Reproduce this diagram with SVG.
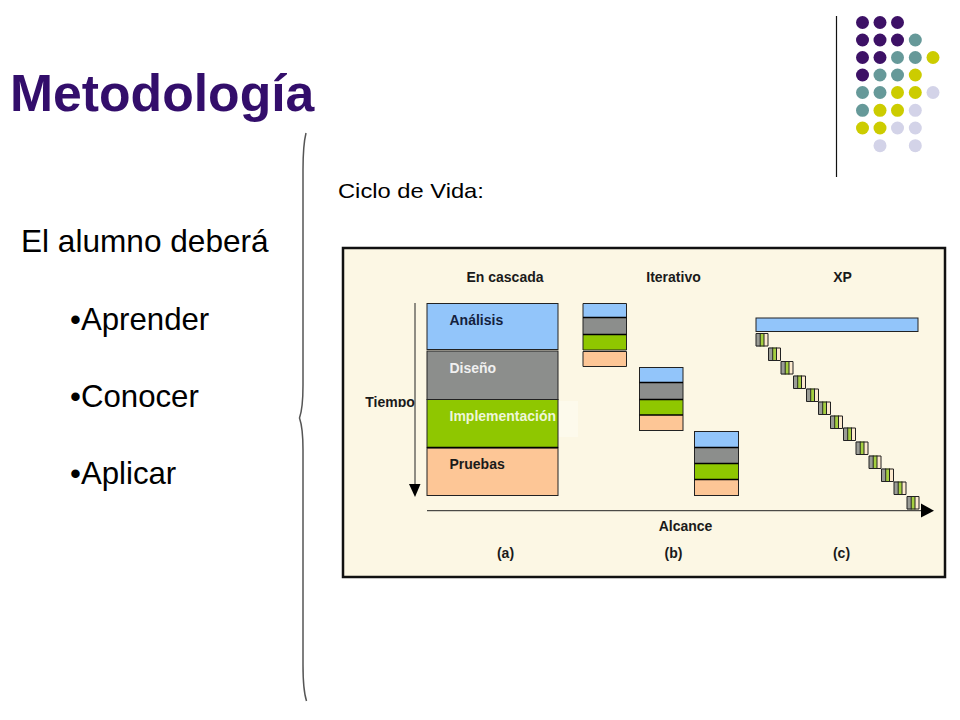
<svg xmlns="http://www.w3.org/2000/svg" width="960" height="720" viewBox="0 0 960 720">
<style>
.p{fill:#3d1166}.t{fill:#669999}.y{fill:#cccc00}.l{fill:#d3d3e8}
.h{font-family:"Liberation Sans",Arial,sans-serif;font-weight:bold;font-size:14px;fill:#1a1a1a;text-anchor:middle}
.b{font-family:"Liberation Sans",Arial,sans-serif;font-size:31.200px;fill:#000}
.bl{fill:#92c5fa}.gr{fill:#8c8e8c}.gn{fill:#8fc700}.pe{fill:#fdc696}
.bx{stroke:#222;stroke-width:1}
.sep{stroke:#000;stroke-width:1.5}
</style>
<defs>
<clipPath id="tc"><rect x="360" y="390" width="60" height="17"/></clipPath>
<g id="mini">
<rect x="0" y="0" width="4" height="13.5" fill="#9a9c96"/>
<rect x="4" y="0" width="4" height="13.5" fill="#a5cf40"/>
<rect x="8" y="0" width="4" height="13.5" fill="#fdeacf"/>
<path d="M0 .5H12V13H0Z M4.2 0V13.5 M8 0V13.5" fill="none" stroke="#222" stroke-width="1"/>
</g>
</defs>
<rect width="960" height="720" fill="#fff"/>
<g id="title"><text x="10" y="111" font-family="Liberation Sans,Arial,sans-serif" font-weight="bold" font-size="51.700" fill="#330e6b">Metodología</text></g>
<g id="left-text">
<text class="b" x="21" y="252" style="font-size:31.600px">El alumno deberá</text>
<text class="b" x="70" y="330">•Aprender</text>
<text class="b" x="70" y="407">•Conocer</text>
<text class="b" x="70" y="484">•Aplicar</text>
</g>
<g id="brace"><path d="M306 133Q303 145 303 170V385Q303 408 299.500 418Q303 428 303 450V665Q303 690 306.500 701" fill="none" stroke="#555" stroke-width="1.500"/></g>
<g id="ornament">
<line x1="836.500" y1="16" x2="836.500" y2="177" stroke="#111" stroke-width="1.200"/>
<g class="p"><circle cx="862.500" cy="22.500" r="6.500"/><circle cx="880" cy="22.500" r="6.500"/><circle cx="897.500" cy="22.500" r="6.500"/><circle cx="862.500" cy="40" r="6.500"/><circle cx="880" cy="40" r="6.500"/><circle cx="897.500" cy="40" r="6.500"/><circle cx="862.500" cy="57.500" r="6.500"/><circle cx="880" cy="57.500" r="6.500"/><circle cx="862.500" cy="75" r="6.500"/></g>
<g class="t"><circle cx="915.300" cy="40" r="6.500"/><circle cx="897.500" cy="57.500" r="6.500"/><circle cx="915.300" cy="57.500" r="6.500"/><circle cx="880" cy="75" r="6.500"/><circle cx="897.500" cy="75" r="6.500"/><circle cx="862.500" cy="92.500" r="6.500"/><circle cx="880" cy="92.500" r="6.500"/><circle cx="862.500" cy="110.300" r="6.500"/></g>
<g class="y"><circle cx="933" cy="57.500" r="6.500"/><circle cx="915.300" cy="75" r="6.500"/><circle cx="897.500" cy="92.500" r="6.500"/><circle cx="915.300" cy="92.500" r="6.500"/><circle cx="880" cy="110.300" r="6.500"/><circle cx="897.500" cy="110.300" r="6.500"/><circle cx="862.500" cy="128" r="6.500"/><circle cx="880" cy="128" r="6.500"/></g>
<g class="l"><circle cx="933" cy="92.500" r="6.500"/><circle cx="915.300" cy="110.300" r="6.500"/><circle cx="897.500" cy="128" r="6.500"/><circle cx="915.300" cy="128" r="6.500"/><circle cx="880" cy="145.700" r="6.500"/><circle cx="915.300" cy="145.700" r="6.500"/></g>
</g>
<g id="caption"><text x="338" y="198" font-family="Liberation Sans,Arial,sans-serif" font-size="21" transform="translate(338 0) scale(1.130 1) translate(-338 0)" fill="#000">Ciclo de Vida:</text></g>
<g id="panel">
<rect x="343" y="248" width="602" height="329" fill="#fcf7e4" stroke="#111" stroke-width="2.500"/>
<rect x="557" y="401" width="21" height="36" fill="#fdfaec"/>
<text class="h" x="505" y="282">En cascada</text>
<text class="h" x="673.500" y="282">Iterativo</text>
<text class="h" x="842.500" y="282">XP</text>
<text class="h" x="685.500" y="531">Alcance</text>
<text class="h" x="505.500" y="558">(a)</text>
<text class="h" x="673.500" y="558">(b)</text>
<text class="h" x="841.500" y="558">(c)</text>
<text class="h" x="390" y="407" clip-path="url(#tc)">Tiempo</text>
</g>
<g id="waterfall">
<rect class="bl bx" x="427" y="303.500" width="131" height="46"/>
<rect class="gr bx" x="427" y="351" width="131" height="48.500"/>
<rect class="gn bx" x="427" y="399.500" width="131" height="48"/>
<rect class="pe bx" x="427" y="448" width="131" height="47.500"/>
<line class="sep" x1="427" y1="447.500" x2="558" y2="447.500"/>
<g class="h" style="text-anchor:start">
<text x="449.500" y="325" style="fill:#14213d">Análisis</text>
<text x="449.500" y="373" style="fill:#f0f0f0">Diseño</text>
<text x="449.500" y="421" style="fill:#eef6d8">Implementación</text>
<text x="449.500" y="469" style="fill:#1a1a1a">Pruebas</text>
</g>
</g>
<g id="iter1">
<rect class="bl" x="583" y="303.500" width="43.500" height="14"/><rect class="gr" x="583" y="317.500" width="43.500" height="17"/><rect class="gn" x="583" y="334.500" width="43.500" height="15.500"/><rect class="pe" x="583" y="351.500" width="43.500" height="15"/>
<path d="M583 303.500H626.500V350H583Z M583 351.500H626.500V366.500H583Z" fill="none" stroke="#222"/>
<path class="sep" d="M583 317.500H626.500M583 334.500H626.500"/>
</g>
<g id="iter2">
<rect class="bl" x="639.500" y="367.500" width="43.500" height="15"/><rect class="gr" x="639.500" y="382.500" width="43.500" height="17"/><rect class="gn" x="639.500" y="399.500" width="43.500" height="15.500"/><rect class="pe" x="639.500" y="415" width="43.500" height="15.500"/>
<rect x="639.500" y="367.500" width="43.500" height="63" fill="none" stroke="#222"/>
<path class="sep" d="M639.500 382.500H683M639.500 399.500H683M639.500 415H683"/>
</g>
<g id="iter3">
<rect class="bl" x="694.500" y="431.500" width="44" height="16"/><rect class="gr" x="694.500" y="447.500" width="44" height="16"/><rect class="gn" x="694.500" y="463.500" width="44" height="16"/><rect class="pe" x="694.500" y="479.500" width="44" height="16"/>
<rect x="694.500" y="431.500" width="44" height="64" fill="none" stroke="#222"/>
<path class="sep" d="M694.500 447.500H738.500M694.500 463.500H738.500M694.500 479.500H738.500"/>
</g>
<g id="xp">
<rect class="bl" x="756" y="318" width="162" height="13.500" stroke="#222"/>
<use href="#mini" x="756" y="333"/>
<use href="#mini" x="768.500" y="347.500"/>
<use href="#mini" x="781" y="361"/>
<use href="#mini" x="793.500" y="375.500"/>
<use href="#mini" x="806.500" y="388.500"/>
<use href="#mini" x="818.500" y="401.500"/>
<use href="#mini" x="830.500" y="415.500"/>
<use href="#mini" x="843.500" y="427.500"/>
<use href="#mini" x="856" y="441.500"/>
<use href="#mini" x="869" y="455.500"/>
<use href="#mini" x="881.500" y="468.500"/>
<use href="#mini" x="894" y="481.500"/>
<use href="#mini" x="907" y="496"/>
</g>
<g id="connectors">
<line x1="415" y1="303" x2="415" y2="486" stroke="#222" stroke-width="1"/>
<path d="M409 484H420.500L415 497Z" fill="#000"/>
<line x1="427" y1="510.700" x2="923" y2="510.700" stroke="#222" stroke-width="1"/>
<path d="M921 503.500L934 510.700L921 517.500Z" fill="#000"/>
</g>
</svg>
